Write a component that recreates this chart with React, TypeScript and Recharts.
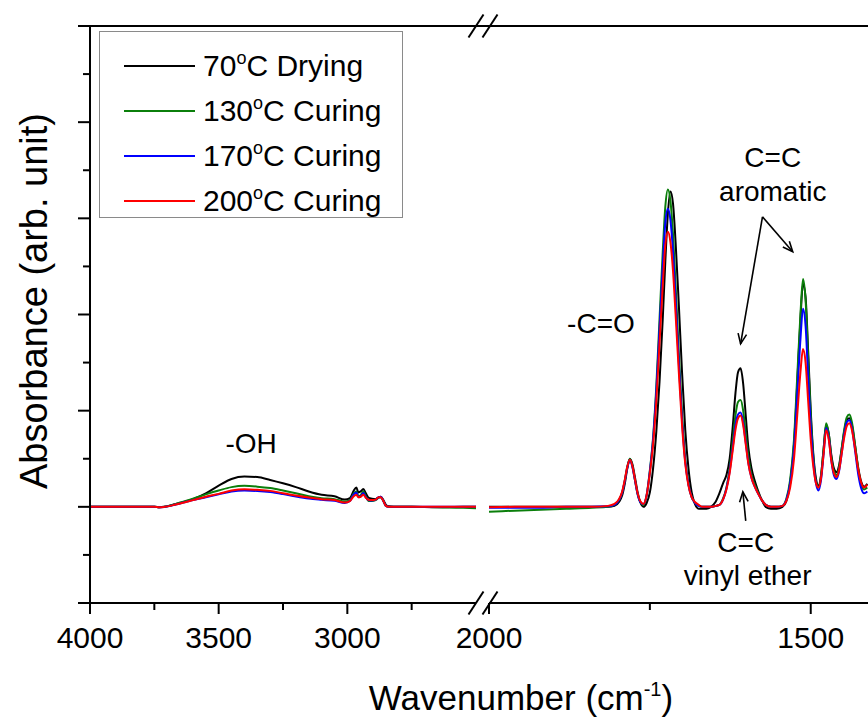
import React from "react";
import { LineChart, Line, XAxis, YAxis, ReferenceLine, ReferenceDot, Legend } from "recharts";

const FONT = '"Liberation Sans", Arial, Helvetica, sans-serif';

// left panel (4000 -> 2500 cm-1)
const leftWn = [4000, 3900, 3800, 3750, 3730, 3710, 3680, 3650, 3600, 3550, 3500, 3450, 3400, 3350, 3300, 3250, 3200, 3150, 3100, 3050, 3010, 2990, 2975, 2965, 2957, 2948, 2938, 2928, 2918, 2905, 2890, 2878, 2870, 2860, 2850, 2840, 2820, 2750, 2650, 2550, 2500];
const leftBlack = [0, 0, 0, 0, -0.005, 0, 0.02, 0.04, 0.08, 0.14, 0.22, 0.29, 0.315, 0.31, 0.28, 0.245, 0.205, 0.16, 0.125, 0.11, 0.075, 0.09, 0.17, 0.2, 0.15, 0.16, 0.185, 0.14, 0.095, 0.085, 0.08, 0.1, 0.105, 0.07, 0.02, 0.005, 0, 0, -0.005, 0, 0];
const leftGreen = [0, 0, 0, 0, -0.005, 0, 0.02, 0.045, 0.085, 0.13, 0.17, 0.205, 0.218, 0.21, 0.195, 0.17, 0.142, 0.11, 0.09, 0.08, 0.055, 0.07, 0.14, 0.16, 0.11, 0.12, 0.16, 0.11, 0.06, 0.06, 0.07, 0.095, 0.1, 0.06, 0.01, 0, 0, 0, -0.005, -0.01, -0.015];
const leftBlue = [0, 0, 0, 0, -0.005, 0, 0.015, 0.035, 0.07, 0.1, 0.13, 0.16, 0.17, 0.165, 0.153, 0.132, 0.107, 0.086, 0.073, 0.062, 0.04, 0.06, 0.13, 0.15, 0.1, 0.11, 0.145, 0.1, 0.07, 0.065, 0.075, 0.1, 0.105, 0.06, 0.01, 0, 0, 0, 0, 0, 0];
const leftRed = [0, 0, 0, 0, -0.005, 0, 0.015, 0.035, 0.07, 0.105, 0.135, 0.17, 0.184, 0.177, 0.166, 0.142, 0.118, 0.097, 0.08, 0.07, 0.045, 0.06, 0.11, 0.125, 0.1, 0.105, 0.125, 0.095, 0.073, 0.07, 0.075, 0.1, 0.1, 0.06, 0.01, 0, 0, 0, 0, 0, 0];

// right panel (2000 -> ~1410 cm-1)
const rightWn = [2000, 1960, 1920, 1880, 1840, 1815, 1805, 1798, 1793, 1789, 1785, 1781, 1777, 1773, 1769, 1765, 1760, 1755, 1750, 1745, 1740, 1735, 1730, 1726, 1722, 1718, 1714, 1710, 1705, 1700, 1695, 1690, 1685, 1680, 1674, 1668, 1662, 1655, 1648, 1642, 1636, 1631, 1626, 1621, 1617, 1613, 1609, 1605, 1601, 1597, 1592, 1587, 1582, 1576, 1570, 1562, 1553, 1544, 1538, 1532, 1526, 1521, 1516, 1512, 1508, 1504, 1500, 1496, 1492, 1488, 1484, 1480, 1476, 1472, 1468, 1464, 1460, 1456, 1452, 1448, 1444, 1440, 1436, 1431, 1426, 1421, 1417, 1412];
const rightBlack = [0, 0, 0, 0, 0, 0, 0.01, 0.05, 0.12, 0.24, 0.4, 0.5, 0.44, 0.3, 0.15, 0.05, 0, 0.04, 0.15, 0.4, 0.78, 1.3, 1.95, 2.55, 3.05, 3.28, 3.15, 2.75, 2.1, 1.4, 0.8, 0.4, 0.15, 0.03, -0.02, -0.02, -0.02, 0, 0.05, 0.14, 0.25, 0.33, 0.5, 0.85, 1.18, 1.4, 1.44, 1.28, 0.95, 0.62, 0.4, 0.27, 0.17, 0.07, 0, -0.02, -0.02, 0, 0.06, 0.25, 0.65, 1.28, 1.95, 2.32, 2.18, 1.62, 1.0, 0.55, 0.3, 0.22, 0.33, 0.6, 0.85, 0.76, 0.54, 0.4, 0.36, 0.43, 0.6, 0.78, 0.9, 0.92, 0.85, 0.63, 0.4, 0.25, 0.21, 0.24];
const rightGreen = [-0.05, -0.04, -0.03, -0.02, -0.01, 0, 0.02, 0.07, 0.15, 0.27, 0.42, 0.5, 0.42, 0.27, 0.13, 0.05, 0.02, 0.12, 0.38, 0.72, 1.25, 1.95, 2.65, 3.12, 3.3, 3.18, 2.83, 2.3, 1.6, 0.97, 0.5, 0.24, 0.1, 0.04, 0.01, 0, 0, 0, 0.01, 0.02, 0.09, 0.2, 0.4, 0.7, 0.95, 1.09, 1.11, 1.0, 0.76, 0.52, 0.33, 0.23, 0.15, 0.07, 0.02, 0, 0, 0.01, 0.08, 0.28, 0.7, 1.35, 2.0, 2.37, 2.15, 1.55, 0.95, 0.52, 0.27, 0.2, 0.32, 0.6, 0.87, 0.76, 0.52, 0.37, 0.33, 0.41, 0.6, 0.8, 0.93, 0.96, 0.88, 0.64, 0.38, 0.22, 0.18, 0.2];
const rightBlue = [-0.01, -0.01, -0.01, 0, 0, 0.005, 0.02, 0.07, 0.15, 0.27, 0.41, 0.49, 0.41, 0.27, 0.13, 0.05, 0.03, 0.12, 0.37, 0.7, 1.2, 1.85, 2.5, 2.95, 3.1, 2.98, 2.65, 2.15, 1.5, 0.9, 0.47, 0.23, 0.1, 0.04, 0.01, 0, 0, 0, 0.01, 0.02, 0.08, 0.19, 0.37, 0.63, 0.85, 0.96, 0.98, 0.88, 0.67, 0.46, 0.3, 0.21, 0.14, 0.07, 0.02, 0, 0, 0.01, 0.07, 0.24, 0.6, 1.17, 1.74, 2.06, 1.88, 1.35, 0.84, 0.47, 0.25, 0.17, 0.28, 0.55, 0.82, 0.72, 0.48, 0.33, 0.29, 0.37, 0.55, 0.75, 0.88, 0.9, 0.82, 0.58, 0.33, 0.18, 0.14, 0.16];
const rightRed = [-0.005, 0, 0, 0, 0, 0.01, 0.03, 0.08, 0.16, 0.28, 0.42, 0.49, 0.42, 0.28, 0.14, 0.06, 0.03, 0.12, 0.35, 0.65, 1.1, 1.7, 2.3, 2.72, 2.86, 2.75, 2.45, 2.0, 1.4, 0.85, 0.45, 0.22, 0.1, 0.05, 0.02, 0, 0, 0, 0.01, 0.02, 0.08, 0.18, 0.35, 0.6, 0.8, 0.92, 0.95, 0.85, 0.65, 0.45, 0.3, 0.21, 0.14, 0.07, 0.02, 0, 0, 0.01, 0.06, 0.2, 0.5, 0.95, 1.4, 1.64, 1.5, 1.1, 0.7, 0.42, 0.25, 0.2, 0.3, 0.55, 0.8, 0.7, 0.48, 0.35, 0.31, 0.38, 0.55, 0.72, 0.84, 0.87, 0.8, 0.6, 0.38, 0.24, 0.2, 0.23];

const leftTicks = [4000, 3750, 3500, 3250, 3000, 2750];
const rightTicks = [2000, 1750, 1500];
const xLabels = [4000, 3500, 3000, 2000, 1500];
const yTicks = [-1, -0.5, 0, 0.5, 1, 1.5, 2, 2.5, 3, 3.5, 4, 4.5, 5];

const series = [
  { key: "black", name: "70°C Drying", color: "#000000" },
  { key: "green", name: "130°C Curing", color: "#0b7f0b" },
  { key: "blue", name: "170°C Curing", color: "#0000ff" },
  { key: "red", name: "200°C Curing", color: "#ff0000" },
];

const leftRows = leftWn.map((wn, i) => ({ wn, black: leftBlack[i], green: leftGreen[i], blue: leftBlue[i], red: leftRed[i] }));
const rightRows = rightWn.map((wn, i) => ({ wn, black: rightBlack[i], green: rightGreen[i], blue: rightBlue[i], red: rightRed[i] }));

// annotation anchors in data units
const leftNotes = [{ text: "-OH", wn: 3374, y: 0.56 }];
const rightNotes = [
  { text: "-C=O", wn: 1826, y: 1.81 },
  { text: "C=C", wn: 1559, y: 3.53 },
  { text: "aromatic", wn: 1559, y: 3.18 },
  { text: "C=C", wn: 1601, y: -0.47 },
  { text: "vinyl ether", wn: 1598, y: -0.81 },
];
const arrows = [
  { from: [1575, 3.016], to: [1609, 1.695] },
  { from: [1575, 3.016], to: [1528, 2.652] },
  { from: [1601, -0.146], to: [1605.5, 0.156] },
];

const XTick = (props: any) => {
  const { x, y, payload } = props;
  const major = xLabels.includes(payload.value);
  return (
    <g>
      <line x1={x} y1={y} x2={x} y2={y + (major ? 11 : 7)} stroke="#000" strokeWidth={2} />
      {major && (
        <text x={x} y={y + 45} textAnchor="middle" fontSize={30} fontFamily={FONT} fill="#000">
          {payload.value}
        </text>
      )}
    </g>
  );
};

const YTick = (props: any) => {
  const { x, y, payload } = props;
  const major = Number.isInteger(payload.value);
  return <line x1={x - (major ? 12 : 7)} y1={y} x2={x} y2={y} stroke="#000" strokeWidth={2} />;
};

const noteShape = (text: string) => (p: any) => (
  <text x={p.cx} y={p.cy} textAnchor="middle" fontSize={28} fontFamily={FONT} fill="#000">
    {text}
  </text>
);

const ArrowShape = (p: any) => {
  const { x1, y1, x2, y2 } = p;
  const a = Math.atan2(y2 - y1, x2 - x1);
  const len = 11;
  const s = 0.4;
  const ax = x2 - len * Math.cos(a - s);
  const ay = y2 - len * Math.sin(a - s);
  const bx = x2 - len * Math.cos(a + s);
  const by = y2 - len * Math.sin(a + s);
  return (
    <g>
      <line x1={x1} y1={y1} x2={x2} y2={y2} stroke="#000" strokeWidth={1.6} />
      <polyline points={`${ax},${ay} ${x2},${y2} ${bx},${by}`} fill="none" stroke="#000" strokeWidth={1.6} />
    </g>
  );
};

const LegendBox = (props: any) => {
  const payload = props.payload || [];
  // keep the series order, not the legend's own sort
  const items = series
    .map((s) => payload.find((p: any) => p.dataKey === s.key) || { value: s.name, color: s.color })
    .filter(Boolean);
  return (
    <div
      style={{
        width: 304,
        height: 187,
        boxSizing: "border-box",
        border: "1px solid #8a8a8a",
        background: "#fff",
        paddingTop: 11,
        fontFamily: FONT,
        fontSize: 30,
        color: "#000",
      }}
    >
      {items.map((it: any) => {
        const [pre, post] = String(it.value).split("°");
        return (
          <div key={it.value} style={{ display: "flex", alignItems: "center", height: 45, lineHeight: "45px", whiteSpace: "nowrap" }}>
            <span style={{ display: "inline-block", width: 71, height: 2, background: it.color, marginLeft: 24, marginRight: 8 }} />
            <span>
              {pre}
              <span style={{ fontSize: 18, position: "relative", top: -12, lineHeight: 0 }}>o</span>
              {post}
            </span>
          </div>
        );
      })}
    </div>
  );
};

const axisLine = { stroke: "#000", strokeWidth: 2 };

function renderLines() {
  return series.map((s) => (
    <Line
      key={s.key}
      type="monotone"
      dataKey={s.key}
      name={s.name}
      stroke={s.color}
      strokeWidth={2}
      dot={false}
      isAnimationActive={false}
    />
  ));
}

export default function App() {
  return (
    <div style={{ position: "absolute", left: 0, top: 0, width: 868, height: 722, background: "#fff", overflow: "hidden" }}>
      <div style={{ position: "absolute", left: 0, top: 0 }}>
        <LineChart width={476} height={722} data={leftRows} margin={{ top: 26, right: 0, bottom: 59, left: 0 }}>
          <XAxis
            dataKey="wn"
            type="number"
            domain={[2500, 4000]}
            reversed
            allowDataOverflow
            ticks={leftTicks}
            interval={0}
            tick={XTick}
            tickLine={false}
            tickSize={0}
            tickMargin={0}
            height={60}
            axisLine={axisLine}
          />
          <YAxis
            type="number"
            domain={[-1, 5]}
            allowDataOverflow
            ticks={yTicks}
            interval={0}
            tick={YTick}
            tickLine={false}
            tickSize={0}
            tickMargin={0}
            width={90}
            axisLine={axisLine}
          />
          <ReferenceLine y={5} stroke="#000" strokeWidth={2} />
          {renderLines()}
          {leftNotes.map((n, i) => (
            <ReferenceDot key={i} x={n.wn} y={n.y} r={0} shape={noteShape(n.text)} />
          ))}
          <Legend
            layout="vertical"
            align="center"
            verticalAlign="middle"
            content={LegendBox}
            wrapperStyle={{ left: 99, top: 31, width: 304, height: 187 }}
          />
        </LineChart>
      </div>
      <div style={{ position: "absolute", left: 420, top: 0 }}>
        <LineChart width={448} height={722} data={rightRows} margin={{ top: 26, right: 0, bottom: 59, left: 69 }}>
          <XAxis
            dataKey="wn"
            type="number"
            domain={[1411, 2000]}
            reversed
            allowDataOverflow
            ticks={rightTicks}
            interval={0}
            tick={XTick}
            tickLine={false}
            tickSize={0}
            tickMargin={0}
            height={60}
            axisLine={axisLine}
          />
          <YAxis hide type="number" domain={[-1, 5]} allowDataOverflow />
          <ReferenceLine y={5} stroke="#000" strokeWidth={2} />
          {renderLines()}
          {rightNotes.map((n, i) => (
            <ReferenceDot key={i} x={n.wn} y={n.y} r={0} shape={noteShape(n.text)} />
          ))}
          {arrows.map((a, i) => (
            <ReferenceLine
              key={"a" + i}
              segment={[{ x: a.from[0], y: a.from[1] }, { x: a.to[0], y: a.to[1] }]}
              shape={ArrowShape}
            />
          ))}
        </LineChart>
      </div>
      <svg width={868} height={722} style={{ position: "absolute", left: 0, top: 0, pointerEvents: "none" }}>
        <line x1={476} y1={26} x2={490} y2={26} stroke="#000" strokeWidth={2} />
        {[476, 490].map((cx) => (
          <g key={cx}>
            <line x1={cx - 7.5} y1={26 + 11.5} x2={cx + 7.5} y2={26 - 11.5} stroke="#000" strokeWidth={2} />
            <line x1={cx - 7.5} y1={603 + 11.5} x2={cx + 7.5} y2={603 - 11.5} stroke="#000" strokeWidth={2} />
          </g>
        ))}
        <text x={521} y={710} textAnchor="middle" fontSize={35} fontFamily={FONT} fill="#000">
          Wavenumber (cm
          <tspan dy={-14} fontSize={20}>-1</tspan>
          <tspan dy={14}>)</tspan>
        </text>
        <text transform="translate(47,301) rotate(-90)" textAnchor="middle" fontSize={38} fontFamily={FONT} fill="#000">
          Absorbance (arb. unit)
        </text>
      </svg>
    </div>
  );
}
